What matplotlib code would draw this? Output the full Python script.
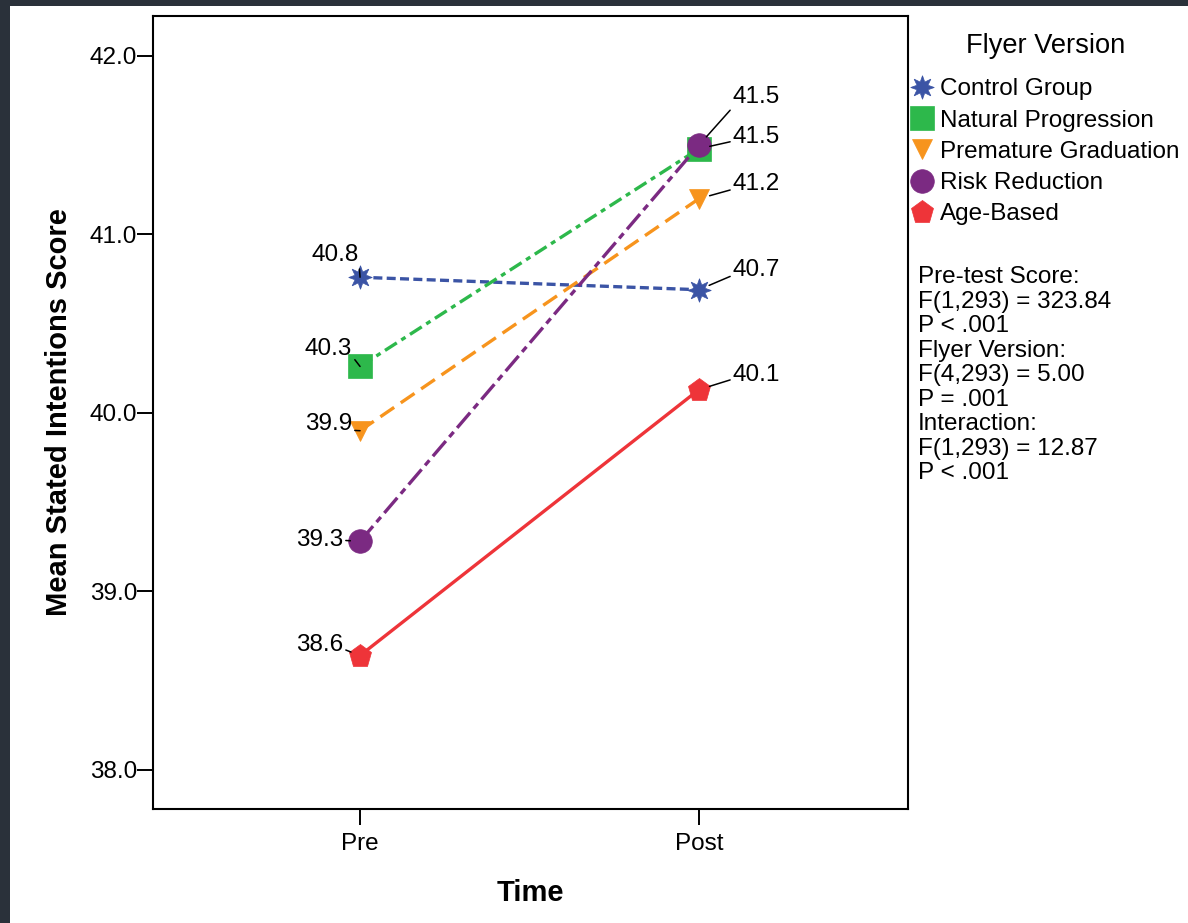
import matplotlib
matplotlib.use("Agg")
import matplotlib.pyplot as plt
from matplotlib.lines import Line2D
from matplotlib.patches import Rectangle

plt.rcParams['font.family'] = ['Liberation Sans', 'DejaVu Sans']

# ---- data ----
times = ["Pre", "Post"]
groups = ["Control Group", "Natural Progression", "Premature Graduation",
          "Risk Reduction", "Age-Based"]
control = [40.76, 40.69]
natural = [40.26, 41.48]
premature = [39.90, 41.20]
risk = [39.28, 41.50]
age_based = [38.64, 40.13]
label_pre = ["40.8", "40.3", "39.9", "39.3", "38.6"]
label_post = ["40.7", "41.5", "41.2", "41.5", "40.1"]
yticks = [38.0, 39.0, 40.0, 41.0, 42.0]
stats_text = ["Pre-test Score:", "F(1,293) = 323.84", "P < .001",
              "Flyer Version:", "F(4,293) = 5.00", "P = .001",
              "Interaction:", "F(1,293) = 12.87", "P < .001"]

series = [control, natural, premature, risk, age_based]
colors = ["#3b54a5", "#2db84b", "#f7941d", "#7b2a82", "#ee3439"]
markers = [(8, 1, 0), "s", "v", "o", "p"]
msizes = [17, 17, 14.5, 17, 17]
dashes = [(2.7, 1.3), (4.2, 1.6, 1.5, 1.6), (5, 2.4), (6, 1.6, 2, 1.6), None]

FS = 17.5
W, H = 1188, 923
fig = plt.figure(figsize=(W / 100, H / 100), dpi=100)
fig.patch.set_facecolor("#2a313a")
fig.patches.append(Rectangle((10 / W, 0), 1 - 10 / W, 1 - 6 / H,
                             transform=fig.transFigure, facecolor="white",
                             edgecolor="none", zorder=-10))

ax = fig.add_axes([153 / W, 1 - 809 / H, (908 - 153) / W, (809 - 16) / H])
ax.set_facecolor("white")
x = [0, 1]
for vals, c, m, ms, d in zip(series, colors, markers, msizes, dashes):
    ln, = ax.plot(x, vals, color=c, lw=2.4, marker=m, markersize=ms,
                  markeredgecolor=c, markerfacecolor=c, markeredgewidth=0.5,
                  zorder=3)
    if d is not None:
        ln.set_dashes(d)

ax.set_xlim(-0.611, 1.617)
ax.set_ylim(37.78, 42.224)
ax.set_xticks(x)
ax.set_xticklabels(times, fontsize=FS)
ax.set_yticks(yticks)
ax.set_yticklabels([f"{v:.1f}" for v in yticks], fontsize=FS)
ax.tick_params(direction="out", length=11.5, width=1.4)
ax.tick_params(axis="y", pad=0)
ax.tick_params(axis="x", pad=6)
for s in ax.spines.values():
    s.set_linewidth(1.5)
ax.set_xlabel("Time", fontsize=21, fontweight="bold", labelpad=17)
ax.set_ylabel("Mean Stated Intentions Score", fontsize=21, fontweight="bold",
              labelpad=12)

# value labels
pre_off = [(-1, 22), (-8, 17), (-8, 7), (-17, 1), (-17, 11)]
pre_rel = [(1, 0.1), (1, 0.2), (1, 0.2), (1, 0.5), (1, 0.3)]
post_off = [(34, 20), (34, 12), (34, 15), (34, 48), (34, 15)]
post_rel = [(0, 0.25), (0, 0.3), (0, 0.25), (0, 0.05), (0, 0.3)]
for i, vals in enumerate(series):
    ax.annotate(label_pre[i], (0, vals[0]), xytext=pre_off[i],
                textcoords="offset pixels", ha="right", va="center",
                fontsize=FS, zorder=5,
                arrowprops=dict(arrowstyle="-", color="black", lw=1.1,
                                shrinkA=0, shrinkB=7, relpos=pre_rel[i]))
    ax.annotate(label_post[i], (1, vals[1]), xytext=post_off[i],
                textcoords="offset pixels", ha="left", va="center",
                fontsize=FS, zorder=5,
                arrowprops=dict(arrowstyle="-", color="black", lw=1.1,
                                shrinkA=0, shrinkB=8, relpos=post_rel[i]))

# legend
handles = [Line2D([], [], linestyle="none", marker=m, color=c,
                  markersize=ms, markeredgecolor=c, markeredgewidth=0.5)
           for c, m, ms in zip(colors, markers, msizes)]
leg = fig.legend(handles, groups, loc="upper left",
                 bbox_to_anchor=(912 / W, 1 - 33 / H), frameon=False,
                 fontsize=FS, title="Flyer Version", title_fontsize=19.6,
                 handlelength=0.8, handletextpad=0.35, labelspacing=0.38,
                 borderpad=0, borderaxespad=0)
leg._legend_box.sep = 14

fig.text(918 / W, 1 - 266 / H, "\n".join(stats_text), ha="left", va="top",
         fontsize=FS, linespacing=1.15)

fig.savefig("out.png", dpi=100, facecolor=fig.get_facecolor())
